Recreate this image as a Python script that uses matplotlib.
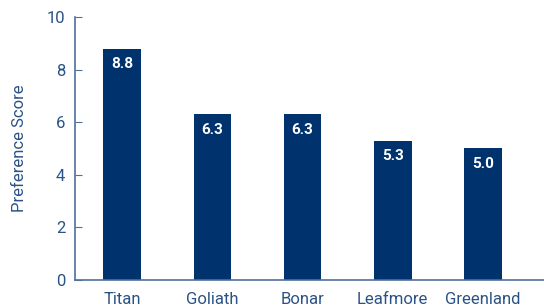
import matplotlib.pyplot as plt

brands = ["Titan", "Goliath", "Bonar", "Leafmore", "Greenland"]
scores = [8.8, 6.3, 6.3, 5.3, 5.0]

bar_color = "#00336e"
axis_color = "#4f6f9c"
text_color = "#2b5286"

plt.rcParams['font.family'] = ['Roboto', 'DejaVu Sans']

fig = plt.figure(figsize=(5.44, 3.08), dpi=100)
ax = fig.add_axes([0.138, 0.091, 0.862, 0.854])

x = range(len(brands))
bars = ax.bar(x, scores, width=0.42, color=bar_color, zorder=2)

for xi, v in zip(x, scores):
    ax.text(xi, v - 0.33, f"{v:.1f}", ha='center', va='top', color='white',
            fontsize=11, fontweight='bold')

ax.set_xlim(-0.525, 4.68)
ax.set_ylim(0, 10)
ax.set_yticks([0, 2, 4, 6, 8, 10])
ax.set_xticks(list(x))
ax.set_xticklabels(brands)

for s in ['top', 'right']:
    ax.spines[s].set_visible(False)
for s in ['left', 'bottom']:
    ax.spines[s].set_color(axis_color)
    ax.spines[s].set_linewidth(1.2)

ax.tick_params(axis='y', direction='in', length=5, color=axis_color,
               labelcolor=text_color, labelsize=12, pad=7)
ax.tick_params(axis='x', length=0, labelcolor=text_color, labelsize=12, pad=9)

ax.set_ylabel("Preference Score", color=text_color, fontsize=12, labelpad=14)

fig.savefig("out.png", dpi=100)
